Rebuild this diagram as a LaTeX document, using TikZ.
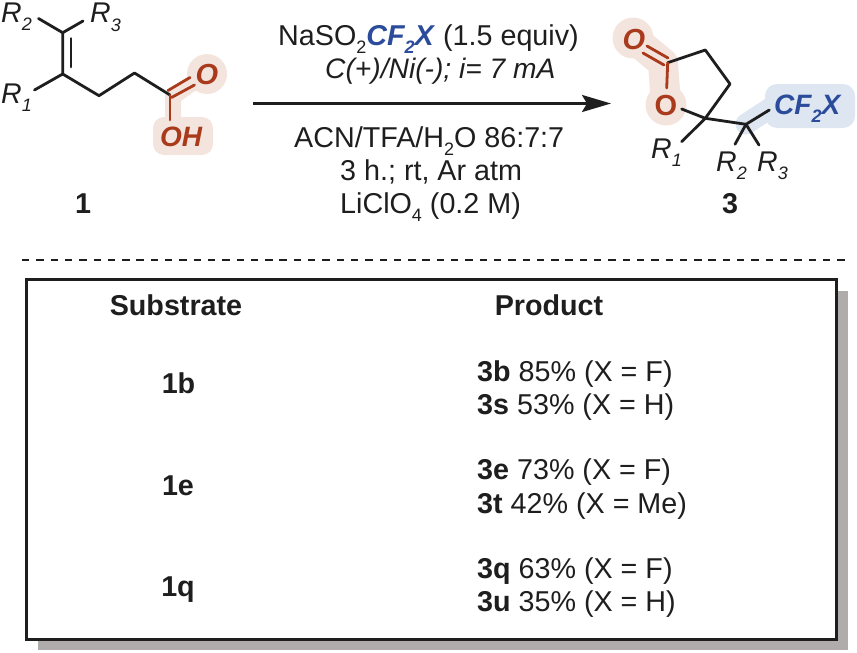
\documentclass[tikz,border=0pt]{standalone}
\usepackage{fontspec}
\setmainfont{Liberation Sans}
\usetikzlibrary{arrows.meta}
\definecolor{rust}{HTML}{A93A1C}
\definecolor{navy}{HTML}{2B4C9B}
\definecolor{pinkbg}{HTML}{F3E4DD}
\definecolor{bluebg}{HTML}{DDE6F1}
\definecolor{greybox}{HTML}{B0ACAC}
\definecolor{ink}{HTML}{1E1E1E}
\newcommand{\subs}[1]{\raisebox{-0.3em}{\fontsize{18}{18}\selectfont #1}}
\begin{document}
\begin{tikzpicture}[x=1pt,y=-1pt,
  txt/.style={inner sep=0pt,anchor=base west,text=ink,font=\fontsize{28.7}{32}\selectfont},
  mid/.style={inner sep=0pt,anchor=base,text=ink,font=\fontsize{28.7}{32}\selectfont\bfseries},
  rlab/.style={inner sep=0pt,anchor=base west,text=ink,font=\fontsize{28.5}{32}\selectfont\itshape},
  bond/.style={draw=ink,line width=2.8pt,line cap=round,line join=round},
  redbond/.style={draw=rust,line width=2.8pt,line cap=round},
  redtxt/.style={inner sep=0pt,anchor=base,text=rust,font=\fontsize{28}{32}\selectfont\bfseries\itshape},
  bluehalo/.style={draw=bluebg,line cap=round,line join=round,line width=21pt}]
\useasboundingbox (0,0) rectangle (857,653);
% highlights, substrate
\fill[pinkbg] (207,74) circle (20);
\fill[pinkbg,rounded corners=11pt] (153,117) rectangle (213,155);
\draw[pinkbg,line width=16pt,line cap=round,line join=round] (202,76) -- (173,97) -- (173,125);
% highlights, product
\draw[pinkbg,line cap=round,line join=round,line width=30pt] (633,38) -- (663,63) -- (666,105);
\fill[pinkbg] (633,38) circle (20.5);
\fill[pinkbg] (666,105) circle (20.5);
\draw[bluehalo] (746,124) -- (775,105);
\fill[bluebg,rounded corners=12pt] (765,84) rectangle (855,128);
% dashes and table
\coordinate (dashL) at (22,260);
\coordinate (dashR) at (845,260);
\draw[ink,line width=2.8pt,dash pattern=on 7.4pt off 6.9pt] (dashL) -- (dashR);
\fill[greybox] (38,291) rectangle (848,650);
\node[draw=ink,fill=white,line width=3.2pt,inner sep=0pt,anchor=north west,minimum width=810pt,minimum height=360pt] (table) at (25,277.5) {};
% substrate skeleton
\coordinate (a1) at (62.7,32.7);
\coordinate (a2) at (62.7,74);
\coordinate (a3) at (99,95.7);
\coordinate (a4) at (134.5,73);
\coordinate (a5) at (170,95);
\coordinate (a6) at (38.5,18.5);
\coordinate (a7) at (83,21);
\coordinate (a8) at (34.5,90);
\coordinate (a9) at (71,38.5);
\coordinate (a10) at (71,67);
\draw[bond] (a6) -- (a1) -- (a7);
\draw[bond] (a1) -- (a2) -- (a3) -- (a4) -- (a5);
\draw[bond] (a8) -- (a2);
\draw[bond] (a9) -- (a10);
\coordinate (o2) at (170,120);
\draw[redbond] (a5) -- (o2);
\draw[redbond] (168,90.5) -- (190,77.5);
\draw[redbond] (171.5,97.5) -- (194.5,85);
\node[redtxt,font=\fontsize{29}{32}\selectfont\bfseries\itshape] (oa) at (207,84) {O};
\node[redtxt] (oha) at (181,146) {OH};
\node[rlab] (r2a) at (1,22) {R\subs{2}};
\node[rlab] (r3a) at (90,23) {R\subs{3}};
\node[rlab] (r1a) at (1,103) {R\subs{1}};
\node[mid] (n1) at (83,213) {1};
% conditions
\node[txt] (c1) at (278,45) {NaSO\subs{2}\textcolor{navy}{\textbf{\textit{CF\subs{2}X}}} (1.5 equiv)};
\node[txt,font=\fontsize{28.2}{32}\selectfont\itshape] (c2) at (325,78) {C(+)/Ni(-); i= 7 mA};
\coordinate (arrL) at (253,103.5);
\coordinate (arrR) at (611,103.5);
\draw[ink,line width=2.6pt,-{Stealth[length=29pt,width=17pt,inset=5pt]}] (arrL) -- (arrR);
\node[txt] (c3) at (294,147) {ACN/TFA/H\subs{2}O 86:7:7};
\node[txt] (c4) at (340,180) {3 h.; rt, Ar atm};
\node[txt] (c5) at (340,213) {LiClO\subs{4} (0.2 M)};
% product skeleton
\coordinate (b1) at (667.7,62.7);
\coordinate (b2) at (705.3,50);
\coordinate (b3) at (730,84);
\coordinate (b4) at (705.3,118.3);
\coordinate (b5) at (681.7,109);
\coordinate (b6) at (666.7,88);
\coordinate (b7) at (746,124.3);
\coordinate (b8) at (769.3,110);
\coordinate (b9) at (681.7,141.7);
\coordinate (b10) at (735,144.3);
\coordinate (b11) at (759,145);
\draw[bond] (b1) -- (b2) -- (b3) -- (b4) -- (b5);
\draw[bond] (b9) -- (b4) -- (b7) -- (b8);
\draw[bond] (b10) -- (b7) -- (b11);
\draw[redbond] (b1) -- (b6);
\draw[redbond] (664,65) -- (643,53);
\draw[redbond] (668,58) -- (647,46);
\node[redtxt,font=\fontsize{29}{32}\selectfont\bfseries\itshape] (ob) at (634,49) {O};
\node[redtxt,font=\fontsize{29}{32}\selectfont\bfseries] (oc) at (666,115) {O};
\node[inner sep=0pt,anchor=base west,text=navy,font=\fontsize{28}{32}\selectfont\bfseries\itshape] (cf) at (774,114) {CF\subs{2}X};
\node[rlab] (r1b) at (651,158) {R\subs{1}};
\node[rlab] (r2b) at (716,171) {R\subs{2}};
\node[rlab] (r3b) at (757,171) {R\subs{3}};
\node[mid] (n3) at (730,213) {3};
% table text
\node[mid] (hs) at (176,315) {Substrate};
\node[mid] (hp) at (549,315.5) {Product};
\node[mid] (s1) at (178.5,393.5) {1b};
\node[mid] (s2) at (178,495) {1e};
\node[mid] (s3) at (178,596) {1q};
\node[txt] (p1) at (477,381) {\textbf{3b} 85\% (X = F)};
\node[txt] (p2) at (477,414) {\textbf{3s} 53\% (X = H)};
\node[txt] (p3) at (477,479.5) {\textbf{3e} 73\% (X = F)};
\node[txt] (p4) at (477,513) {\textbf{3t} 42\% (X = Me)};
\node[txt] (p5) at (477,578) {\textbf{3q} 63\% (X = F)};
\node[txt] (p6) at (477,611) {\textbf{3u} 35\% (X = H)};
\end{tikzpicture}
\end{document}
